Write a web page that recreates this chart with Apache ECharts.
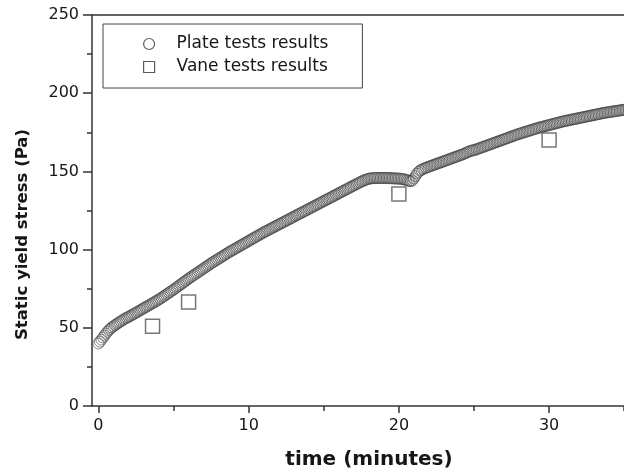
<!DOCTYPE html>
<html>
<head>
<meta charset="utf-8">
<script src="https://cdn.jsdelivr.net/npm/echarts@6/dist/echarts.min.js"></script>
<style>
html,body{margin:0;padding:0;background:#fff;}
#chart{width:624px;height:476px;}
</style>
</head>
<body>
<div id="chart"></div>
<script>
// ---- data ----
var plateTime = [
  0,0.1,0.2,0.3,0.4,0.5,0.6,0.7,0.8,0.9,
  1,1.1,1.2,1.3,1.4,1.5,1.6,1.7,1.8,1.9,
  2,2.1,2.2,2.3,2.4,2.5,2.6,2.7,2.8,2.9,
  3,3.1,3.2,3.3,3.4,3.5,3.6,3.7,3.8,3.9,
  4,4.1,4.2,4.3,4.4,4.5,4.6,4.7,4.8,4.9,
  5,5.1,5.2,5.3,5.4,5.5,5.6,5.7,5.8,5.9,
  6,6.1,6.2,6.3,6.4,6.5,6.6,6.7,6.8,6.9,
  7,7.1,7.2,7.3,7.4,7.5,7.6,7.7,7.8,7.9,
  8,8.1,8.2,8.3,8.4,8.5,8.6,8.7,8.8,8.9,
  9,9.1,9.2,9.3,9.4,9.5,9.6,9.7,9.8,9.9,
  10,10.1,10.2,10.3,10.4,10.5,10.6,10.7,10.8,10.9,
  11,11.1,11.2,11.3,11.4,11.5,11.6,11.7,11.8,11.9,
  12,12.1,12.2,12.3,12.4,12.5,12.6,12.7,12.8,12.9,
  13,13.1,13.2,13.3,13.4,13.5,13.6,13.7,13.8,13.9,
  14,14.1,14.2,14.3,14.4,14.5,14.6,14.7,14.8,14.9,
  15,15.1,15.2,15.3,15.4,15.5,15.6,15.7,15.8,15.9,
  16,16.1,16.2,16.3,16.4,16.5,16.6,16.7,16.8,16.9,
  17,17.1,17.2,17.3,17.4,17.5,17.6,17.7,17.8,17.9,
  18,18.1,18.2,18.3,18.4,18.5,18.6,18.7,18.8,18.9,
  19,19.1,19.2,19.3,19.4,19.5,19.6,19.7,19.8,19.9,
  20,20.1,20.2,20.3,20.4,20.5,20.6,20.7,20.8,20.9,
  21,21.1,21.2,21.3,21.4,21.5,21.6,21.7,21.8,21.9,
  22,22.1,22.2,22.3,22.4,22.5,22.6,22.7,22.8,22.9,
  23,23.1,23.2,23.3,23.4,23.5,23.6,23.7,23.8,23.9,
  24,24.1,24.2,24.3,24.4,24.5,24.6,24.7,24.8,24.9,
  25,25.1,25.2,25.3,25.4,25.5,25.6,25.7,25.8,25.9,
  26,26.1,26.2,26.3,26.4,26.5,26.6,26.7,26.8,26.9,
  27,27.1,27.2,27.3,27.4,27.5,27.6,27.7,27.8,27.9,
  28,28.1,28.2,28.3,28.4,28.5,28.6,28.7,28.8,28.9,
  29,29.1,29.2,29.3,29.4,29.5,29.6,29.7,29.8,29.9,
  30,30.1,30.2,30.3,30.4,30.5,30.6,30.7,30.8,30.9,
  31,31.1,31.2,31.3,31.4,31.5,31.6,31.7,31.8,31.9,
  32,32.1,32.2,32.3,32.4,32.5,32.6,32.7,32.8,32.9,
  33,33.1,33.2,33.3,33.4,33.5,33.6,33.7,33.8,33.9,
  34,34.1,34.2,34.3,34.4,34.5,34.6,34.7,34.8,34.9,
  35,35.1,35.2,35.3,35.4,35.5,35.6
];
var plateStress = [
  40.0,41.2,42.5,43.8,45.0,46.3,47.5,48.6,49.5,50.3,
  51.0,51.7,52.3,53.0,53.6,54.2,54.8,55.4,56.0,56.5,
  57.0,57.5,58.0,58.6,59.1,59.7,60.2,60.8,61.3,61.9,
  62.4,63.0,63.5,64.1,64.6,65.2,65.7,66.3,66.8,67.4,
  68.0,68.6,69.2,69.9,70.5,71.2,71.8,72.5,73.1,73.8,
  74.4,75.1,75.8,76.5,77.2,77.9,78.6,79.3,80.0,80.7,
  81.4,82.1,82.7,83.4,84.0,84.7,85.3,86.0,86.6,87.3,
  87.9,88.6,89.2,89.9,90.5,91.2,91.8,92.4,93.0,93.6,
  94.2,94.8,95.4,96.0,96.6,97.2,97.8,98.4,98.9,99.5,
  100.0,100.6,101.1,101.7,102.2,102.8,103.3,103.9,104.4,105.0,
  105.5,106.1,106.6,107.2,107.7,108.3,108.8,109.4,109.9,110.5,
  111.0,111.5,112.0,112.5,113.0,113.5,114.0,114.5,115.0,115.5,
  116.0,116.5,117.0,117.5,118.0,118.5,119.0,119.5,120.0,120.5,
  121.0,121.5,122.0,122.5,123.0,123.5,124.0,124.5,125.0,125.5,
  126.0,126.5,127.0,127.5,128.0,128.5,129.0,129.5,130.0,130.5,
  131.0,131.5,132.0,132.5,133.0,133.5,134.0,134.5,135.0,135.5,
  136.0,136.5,137.0,137.5,138.0,138.5,139.0,139.5,140.0,140.5,
  141.0,141.5,142.0,142.5,143.0,143.5,143.9,144.3,144.7,145.0,
  145.3,145.5,145.6,145.7,145.8,145.8,145.8,145.8,145.8,145.8,
  145.8,145.8,145.8,145.7,145.7,145.6,145.6,145.5,145.5,145.4,
  145.4,145.3,145.2,145.0,144.8,144.5,144.2,143.9,143.8,144.3,
  145.5,147.0,148.5,149.6,150.5,151.0,151.5,151.9,152.3,152.7,
  153.0,153.4,153.7,154.1,154.4,154.8,155.1,155.5,155.8,156.2,
  156.5,156.9,157.2,157.6,157.9,158.3,158.6,159.0,159.3,159.7,
  160.0,160.4,160.7,161.1,161.5,162.0,162.4,162.8,163.2,163.4,
  163.6,163.9,164.2,164.6,164.9,165.3,165.6,166.0,166.3,166.7,
  167.0,167.4,167.7,168.1,168.4,168.8,169.1,169.5,169.8,170.2,
  170.5,170.9,171.2,171.6,171.9,172.3,172.6,173.0,173.3,173.7,
  174.0,174.3,174.6,174.9,175.2,175.5,175.8,176.1,176.4,176.7,
  177.0,177.3,177.6,177.9,178.1,178.4,178.6,178.9,179.1,179.4,
  179.6,179.9,180.1,180.4,180.6,180.9,181.1,181.4,181.6,181.9,
  182.1,182.3,182.5,182.7,182.9,183.1,183.3,183.5,183.7,183.9,
  184.1,184.3,184.5,184.7,184.9,185.1,185.3,185.5,185.7,185.9,
  186.1,186.3,186.5,186.7,186.9,187.1,187.3,187.5,187.6,187.8,
  187.9,188.1,188.2,188.4,188.5,188.7,188.8,189.0,189.1,189.3,
  189.4,189.6,189.7,189.9,190.0,190.2,190.3
];
var vaneTime = [3.6, 6.0, 20.0, 30.0];
var vaneStress = [51, 66.5, 135.5, 170];
var xTickValues = [0, 10, 20, 30];
var xMinorTickValues = [5, 15, 25, 35];
var seriesNames = ['Plate tests results', 'Vane tests results'];
var xAxisTitle = 'time (minutes)';
var yAxisTitle = 'Static yield stress (Pa)';

// ---- build ----
function pairs(xs, ys) {
  var out = [];
  for (var i = 0; i < xs.length; i++) out.push([xs[i], ys[i]]);
  return out;
}
var axisColor = '#333';
var textColor = '#161616';
var labelFont = 'DejaVu Sans';
var xMin = -0.43, xMax = 36.45;

var chart = echarts.init(document.getElementById('chart'), null, {renderer: 'canvas'});
chart.setOption({
  animation: false,
  backgroundColor: '#fff',
  grid: {left: 92, top: 15, width: 554, height: 391, containLabel: false, outerBoundsMode: 'none'},
  legend: {
    left: 103, top: 24,
    orient: 'vertical',
    padding: [10, 34, 11, 40],
    itemGap: 3,
    itemWidth: 11, itemHeight: 11,
    borderColor: '#444', borderWidth: 1,
    backgroundColor: '#fff',
    textStyle: {fontFamily: labelFont, fontSize: 17, color: textColor, lineHeight: 20, padding: [0, 0, 0, 17]},
    data: [
      {name: seriesNames[0], icon: 'circle', itemStyle: {color: '#fff', borderColor: '#333', borderWidth: 1.2}},
      {name: seriesNames[1], icon: 'rect', itemStyle: {color: '#fff', borderColor: '#333', borderWidth: 1.2}}
    ]
  },
  xAxis: [
    {
      type: 'value', min: xMin, max: xMax, position: 'bottom',
      name: xAxisTitle, nameLocation: 'middle', nameGap: 44,
      nameTextStyle: {fontFamily: labelFont, fontWeight: 'bold', fontSize: 20, color: textColor},
      axisLine: {show: true, onZero: false, lineStyle: {color: axisColor, width: 1.5}},
      axisTick: {show: true, length: 7, customValues: xTickValues, lineStyle: {color: axisColor, width: 1.5}},
      axisLabel: {customValues: xTickValues, margin: 12, fontFamily: labelFont, fontSize: 16, color: textColor},
      splitLine: {show: false}
    },
    {
      type: 'value', min: xMin, max: xMax, position: 'bottom',
      axisLine: {show: false},
      axisTick: {show: true, length: 5, customValues: xMinorTickValues, lineStyle: {color: axisColor, width: 1.5}},
      axisLabel: {show: false},
      splitLine: {show: false}
    },
    {
      type: 'value', min: xMin, max: xMax, position: 'top',
      axisLine: {show: true, onZero: false, lineStyle: {color: axisColor, width: 1.5}},
      axisTick: {show: false}, axisLabel: {show: false}, splitLine: {show: false}
    }
  ],
  yAxis: {
    type: 'value', min: 0, max: 250, interval: 50,
    name: yAxisTitle, nameLocation: 'middle', nameGap: 61, nameRotate: 90,
    nameTextStyle: {fontFamily: labelFont, fontWeight: 'bold', fontSize: 16.5, color: textColor, padding: [0, 48, 0, 0]},
    axisLine: {show: true, onZero: false, lineStyle: {color: axisColor, width: 1.5}},
    axisTick: {show: true, length: 9, lineStyle: {color: axisColor, width: 1.5}},
    minorTick: {show: true, splitNumber: 2, length: 5, lineStyle: {color: axisColor, width: 1.5}},
    axisLabel: {margin: 13, fontFamily: labelFont, fontSize: 16, color: textColor},
    splitLine: {show: false}
  },
  series: [
    {
      name: seriesNames[0], type: 'scatter', xAxisIndex: 0,
      data: pairs(plateTime, plateStress),
      symbol: 'circle', symbolSize: 11,
      itemStyle: {color: 'rgba(255,255,255,0)', borderColor: '#454545', borderWidth: 0.8}
    },
    {
      name: seriesNames[1], type: 'scatter', xAxisIndex: 0,
      data: pairs(vaneTime, vaneStress),
      symbol: 'rect', symbolSize: 14,
      itemStyle: {color: 'rgba(255,255,255,0)', borderColor: '#555', borderWidth: 1.5}
    }
  ]
});
</script>
</body>
</html>
